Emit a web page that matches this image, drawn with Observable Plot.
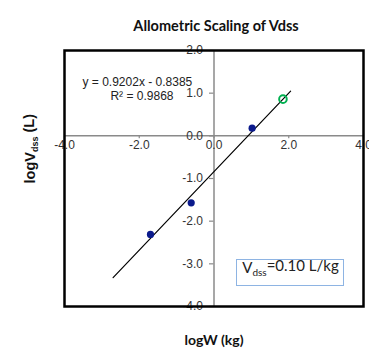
<!DOCTYPE html>
<html>
<head>
<meta charset="utf-8">
<script src="https://cdn.jsdelivr.net/npm/d3@7"></script>
<script src="https://cdn.jsdelivr.net/npm/@observablehq/plot@0.6"></script>
<style>
  html, body { margin: 0; padding: 0; background: white; }
</style>
</head>
<body>
<div id="chart"></div>
<script>
// Data
const speciesLogW = [1.02, -0.61, -1.70];
const speciesLogV = [0.18, -1.57, -2.31];
const predictedLogW = [1.845];
const slope = 0.9202;
const intercept = -0.8385;
const predictedLogV = predictedLogW.map(x => slope * x + intercept);
const fitRangeX = [-2.7, 2.05];
const xTicks = [-4, -2, 0, 2, 4];
const yTicks = [2, 1, 0, -1, -2, -3, -4];

const observed = speciesLogW.map((x, i) => ({x, y: speciesLogV[i]}));
const predicted = predictedLogW.map((x, i) => ({x, y: predictedLogV[i]}));
const fit = fitRangeX.map(x => ({x, y: slope * x + intercept}));

const arial = "Liberation Sans, Arial, sans-serif";
const lato = "Lato, Carlito, Calibri, sans-serif";

const chart = Plot.plot({
  width: 369,
  height: 351,
  marginTop: 50,
  marginBottom: 45,
  marginLeft: 64,
  marginRight: 6,
  x: {domain: [-4, 4], axis: null},
  y: {domain: [-4, 2], axis: null},
  style: {fontFamily: arial, fontSize: "12px", background: "white", color: "black"},
  marks: [
    Plot.ruleX([0], {stroke: "#8a8a8a", strokeWidth: 1.5}),
    Plot.ruleY([0], {stroke: "#8a8a8a", strokeWidth: 1.5}),
    Plot.ruleX(xTicks, {x: d => d, y1: 0, y2: -0.07, stroke: "#8a8a8a", strokeWidth: 1.2}),
    Plot.ruleY(yTicks, {y: d => d, x1: 0, x2: -0.12, stroke: "#8a8a8a", strokeWidth: 1.2}),
    Plot.text(xTicks, {x: d => d, y: 0, dy: 9, text: d => d.toFixed(1), fill: "#333", fontSize: 12}),
    Plot.text(yTicks, {x: 0, y: d => d, dx: -11, textAnchor: "end", text: d => d.toFixed(1), fill: "#333", fontSize: 12}),
    Plot.line(fit, {x: "x", y: "y", stroke: "black", strokeWidth: 1.2}),
    Plot.dot(observed, {x: "x", y: "y", r: 3.6, fill: "#0b1a8c", stroke: "none"}),
    Plot.dot(predicted, {x: "x", y: "y", r: 3.8, fill: "none", stroke: "#00b050", strokeWidth: 2}),
    Plot.text([`y = ${slope.toFixed(4)}x - ${Math.abs(intercept).toFixed(4)}`], {frameAnchor: "top-left", dx: 18, dy: 27, textAnchor: "start", fontSize: 12, fill: "#222"}),
    Plot.text(["R² = 0.9868"], {frameAnchor: "top-left", dx: 109, dy: 41, textAnchor: "end", fontSize: 12, fill: "#222"}),
    Plot.frame({stroke: "#8eb4e3", strokeWidth: 1, insetLeft: 172, insetRight: 20, insetTop: 209, insetBottom: 21}),
    Plot.text(["Vdss=0.10 L/kg"], {frameAnchor: "bottom-right", dx: -73, dy: -34, textAnchor: "middle", fontFamily: lato, fontSize: 15, fill: "#222"}),
    Plot.frame({stroke: "black", strokeWidth: 2.5}),
    Plot.text(["Allometric Scaling of Vdss"], {frameAnchor: "top", dx: 2, dy: -30, fontFamily: lato, fontWeight: "bold", fontSize: 14.5, fill: "#111"}),
    Plot.text(["logW (kg)"], {frameAnchor: "bottom", dx: 0, dy: 38, fontFamily: lato, fontWeight: "bold", fontSize: 14, fill: "#111"}),
    Plot.text(["logVdss (L)"], {frameAnchor: "left", dx: -34, dy: 5, rotate: -90, fontFamily: arial, fontWeight: "bold", fontSize: 14.5, fill: "#111"})
  ]
});

document.getElementById("chart").appendChild(chart);

// Subscripts
function subscript(content, before, sub, after, subSize) {
  d3.select(chart).selectAll("text").filter(function() { return this.textContent === content; })
    .each(function() {
      const t = d3.select(this);
      t.text(null);
      t.append("tspan").text(before);
      t.append("tspan").attr("font-size", subSize).attr("dy", "0.3em").text(sub);
      t.append("tspan").attr("dy", "-0.3em").text(after);
    });
}
subscript("logVdss (L)", "logV", "dss", " (L)", 9);
subscript("Vdss=0.10 L/kg", "V", "dss", "=0.10 L/kg", 10);
</script>
</body>
</html>
